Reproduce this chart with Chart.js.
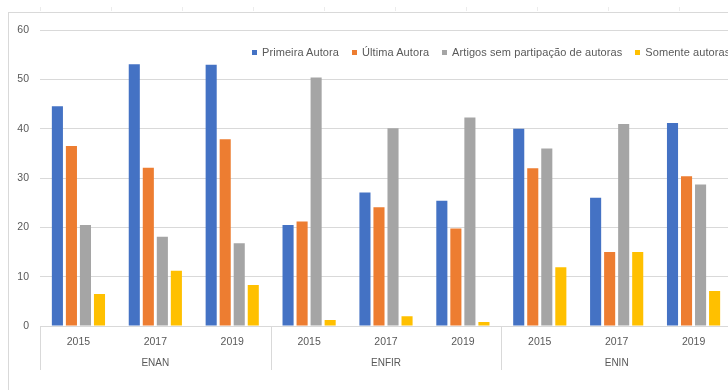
<!DOCTYPE html>
<html lang="pt">
<head>
<meta charset="utf-8">
<title>Autoria por evento</title>
<script src="https://cdn.jsdelivr.net/npm/chart.js@4/dist/chart.umd.min.js"></script>
<style>
    html, body {
        margin: 0;
        padding: 0;
        background: #fff;
        overflow: hidden;
        width: 728px;
        height: 390px;
    }
    .sheet-ticks {
        position: absolute;
        left: 8px;
        top: 0;
        width: 740px;
        height: 11px;
        background-image: linear-gradient(to right, #ececec 1px, transparent 1px);
        background-size: 71px 4px;
        background-position: 32px 7px;
        background-repeat: repeat-x;
    }
    .chart-box {
        position: absolute;
        left: 8px;
        top: 12px;
        width: 740px;
        height: 378px;
        border-left: 1px solid #d9d9d9;
        border-top: 1px solid #d9d9d9;
        box-sizing: border-box;
    }
    .legend {
        position: absolute;
        left: 252px;
        top: 46px;
        display: flex;
        gap: 13px;
        font-family: "Liberation Sans", Arial, sans-serif;
        font-size: 11px;
        letter-spacing: 0.08px;
        color: #595959;
        white-space: nowrap;
    }
    .legend span.item {
        display: flex;
        align-items: center;
    }
    .legend i {
        display: inline-block;
        width: 5px;
        height: 5px;
        margin-right: 5px;
    }
</style>
</head>
<body>
<div class="sheet-ticks"></div>
<div class="chart-box">
    <canvas id="autoriaChart" width="739" height="377"></canvas>
</div>
<div class="legend" id="legend"></div>

<script>
// Eventos e anos (eixo de duas linhas)
const groups = ['ENAN', 'ENFIR', 'ENIN'];
const years = ['2015', '2017', '2019'];
const yTicks = [0, 10, 20, 30, 40, 50, 60];

// Séries, na ordem ENAN 2015..2019, ENFIR 2015..2019, ENIN 2015..2019
const seriesNames = ['Primeira Autora', 'Última Autora', 'Artigos sem partipação de autoras', 'Somente autoras'];
const primeiraAutora = [44.6, 53.1, 53.0, 20.5, 27.1, 25.4, 40.0, 26.0, 41.2];
const ultimaAutora   = [36.5, 32.1, 37.9, 21.2, 24.1, 19.8, 32.0, 15.0, 30.4];
const semAutoras     = [20.5, 18.1, 16.8, 50.4, 40.1, 42.3, 36.0, 41.0, 28.7];
const somenteAutoras = [6.5, 11.2, 8.3, 1.2, 2.0, 0.8, 11.9, 15.0, 7.1];
const seriesColors = ['#4472c4', '#ed7d31', '#a5a5a5', '#ffc000'];

const labels = [];
groups.forEach(() => years.forEach(y => labels.push(y)));

const values = [primeiraAutora, ultimaAutora, semAutoras, somenteAutoras];
const datasets = values.map((data, i) => ({
    label: seriesNames[i],
    data: data,
    backgroundColor: seriesColors[i],
    categoryPercentage: 0.73,
    barPercentage: 0.79
}));

// Legenda em HTML
const legendEl = document.getElementById('legend');
seriesNames.forEach((name, i) => {
    const item = document.createElement('span');
    item.className = 'item';
    const box = document.createElement('i');
    box.style.background = seriesColors[i];
    item.appendChild(box);
    item.appendChild(document.createTextNode(name));
    legendEl.appendChild(item);
});

const axisFont = { family: '"Liberation Sans", Arial, sans-serif', size: 10.5 };
const textColor = '#595959';
const lineColor = '#d9d9d9';

// Segundo nível do eixo x: separadores e nomes dos eventos
const groupAxis = {
    id: 'groupAxis',
    afterDraw(chart) {
        const x = chart.scales.x;
        const ctx = chart.ctx;
        const top = chart.chartArea.bottom;
        ctx.save();
        ctx.strokeStyle = lineColor;
        ctx.lineWidth = 1;
        for (let g = 0; g <= groups.length; g++) {
            const px = Math.round(x.getPixelForValue(g * years.length - 0.5)) + 0.5;
            ctx.beginPath();
            ctx.moveTo(px, top);
            ctx.lineTo(px, top + 44);
            ctx.stroke();
        }
        ctx.fillStyle = textColor;
        ctx.font = '10px "Liberation Sans", Arial, sans-serif';
        ctx.textAlign = 'center';
        ctx.textBaseline = 'middle';
        groups.forEach((name, g) => {
            const px = x.getPixelForValue(g * years.length + (years.length - 1) / 2);
            ctx.fillText(name, px, top + 37);
        });
        ctx.restore();
    }
};

new Chart(document.getElementById('autoriaChart'), {
    type: 'bar',
    data: { labels: labels, datasets: datasets },
    options: {
        responsive: false,
        animation: false,
        layout: { padding: { top: 12, right: 16, left: 0, bottom: 0 } },
        plugins: {
            legend: { display: false },
            tooltip: { enabled: false }
        },
        scales: {
            x: {
                grid: { display: false, drawTicks: false },
                border: { display: true, color: lineColor },
                ticks: { font: axisFont, color: textColor, padding: 10, maxRotation: 0 },
                afterFit: (scale) => { scale.height = 64; }
            },
            y: {
                min: 0,
                max: 60,
                afterBuildTicks: (scale) => {
                    scale.ticks = yTicks.map(v => ({ value: v }));
                },
                grid: { color: lineColor, drawTicks: false },
                border: { display: false },
                ticks: { font: axisFont, color: textColor, padding: 11 },
                afterFit: (scale) => { scale.width = 31; }
            }
        }
    },
    plugins: [groupAxis]
});
</script>
</body>
</html>
